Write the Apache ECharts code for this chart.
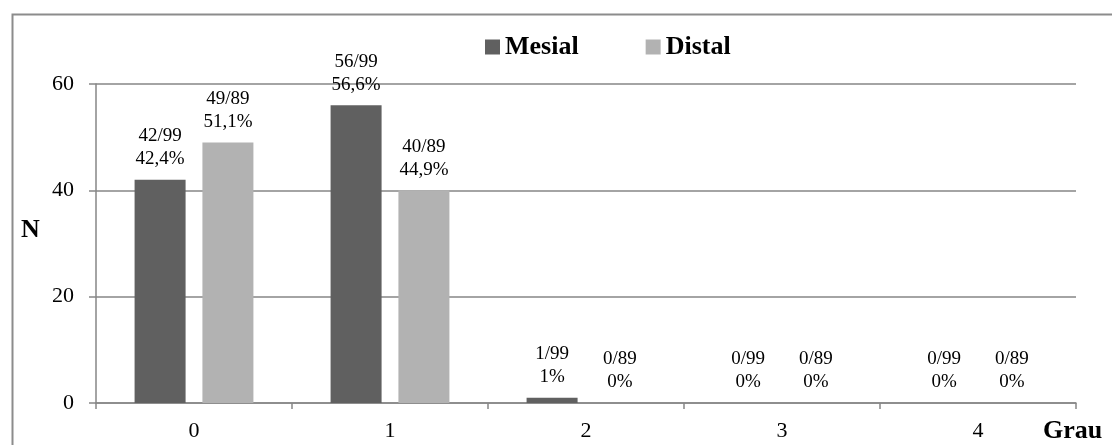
<!DOCTYPE html>
<html>
<head>
<meta charset="utf-8">
<script src="https://cdn.jsdelivr.net/npm/echarts@6/dist/echarts.min.js"></script>
<style>
  html, body { margin: 0; padding: 0; background: #fff; }
  #chart { width: 1112px; height: 445px; }
</style>
</head>
<body>
<div id="chart"></div>
<script>
// Grau categories and counts per surface
const categories = ['0', '1', '2', '3', '4'];
const mesialCounts = [42, 56, 1, 0, 0];
const distalCounts = [49, 40, 0, 0, 0];
const mesialTotal = 99;
const distalTotal = 89;
const mesialPct = ['42,4%', '56,6%', '1%', '0%', '0%'];
const distalPct = ['51,1%', '44,9%', '0%', '0%', '0%'];
const yTicks = [0, 20, 40, 60];

const FONT = "'Liberation Serif', 'Times New Roman', serif";
const AXIS_GRAY = '#868686';

function valueLabel(counts, total, pct) {
  return {
    show: true,
    position: 'top',
    distance: 9,
    fontFamily: FONT,
    fontSize: 19,
    lineHeight: 23,
    color: '#000',
    formatter: p => counts[p.dataIndex] + '/' + total + '\n' + pct[p.dataIndex]
  };
}

const chart = echarts.init(document.getElementById('chart'), null, { renderer: 'canvas' });

chart.setOption({
  animation: false,
  backgroundColor: '#fff',
  textStyle: { fontFamily: FONT },
  grid: { left: 96, right: 36, top: 84, bottom: 42, containLabel: false },
  legend: {
    top: 29,
    left: 480,
    itemWidth: 15,
    itemHeight: 15,
    itemGap: 67,
    icon: 'rect',
    textStyle: { fontFamily: FONT, fontSize: 26, fontWeight: 'bold', color: '#000' },
    data: ['Mesial', 'Distal']
  },
  xAxis: {
    type: 'category',
    data: categories,
    axisLine: { lineStyle: { color: AXIS_GRAY, width: 1.5 } },
    axisTick: { show: true, alignWithLabel: false, length: 6, lineStyle: { color: AXIS_GRAY, width: 1.5 } },
    axisLabel: { fontFamily: FONT, fontSize: 22, color: '#000', margin: 17 },
    splitLine: { show: false }
  },
  yAxis: {
    type: 'value',
    min: yTicks[0],
    max: yTicks[yTicks.length - 1],
    interval: yTicks[1] - yTicks[0],
    axisLine: { show: true, lineStyle: { color: AXIS_GRAY, width: 1.5 } },
    axisTick: { show: true, length: 7, lineStyle: { color: AXIS_GRAY, width: 1.5 } },
    axisLabel: { fontFamily: FONT, fontSize: 22, color: '#000', margin: 22 },
    splitLine: { show: true, lineStyle: { color: AXIS_GRAY, width: 1.5 } }
  },
  series: [
    {
      name: 'Mesial',
      type: 'bar',
      data: mesialCounts,
      barWidth: 51,
      barGap: '33%',
      itemStyle: { color: '#606060' },
      label: valueLabel(mesialCounts, mesialTotal, mesialPct)
    },
    {
      name: 'Distal',
      type: 'bar',
      data: distalCounts,
      barWidth: 51,
      itemStyle: { color: '#b2b2b2' },
      label: valueLabel(distalCounts, distalTotal, distalPct)
    }
  ],
  graphic: [
    {
      type: 'rect',
      left: 10, top: 12,
      shape: { width: 1130, height: 460 },
      style: { fill: 'none', stroke: '#8c8c8c', lineWidth: 2 },
      silent: true
    },
    {
      type: 'text',
      left: 21, top: 217,
      style: { text: 'N', fontFamily: FONT, fontSize: 26, fontWeight: 'bold', fill: '#000' }
    },
    {
      type: 'text',
      left: 1043, top: 418,
      style: { text: 'Grau', fontFamily: FONT, fontSize: 26, fontWeight: 'bold', fill: '#000' }
    }
  ]
});
</script>
</body>
</html>
